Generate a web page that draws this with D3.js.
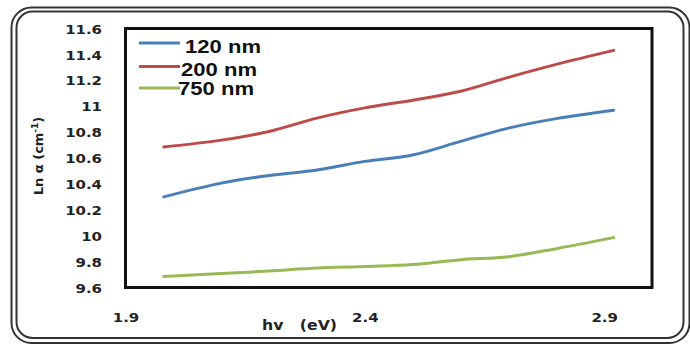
<!DOCTYPE html>
<html><head><meta charset="utf-8">
<script src="https://cdn.jsdelivr.net/npm/d3@7"></script>
<style>html,body{margin:0;padding:0;background:#fff;}svg{display:block;}</style>
</head><body>
<script>
const xValues = [1.98, 2.1, 2.2, 2.3, 2.4, 2.5, 2.6, 2.7, 2.8, 2.92];
const series120 = [10.30, 10.406, 10.465, 10.508, 10.574, 10.623, 10.728, 10.831, 10.904, 10.969];
const series200 = [10.685, 10.738, 10.805, 10.908, 10.987, 11.046, 11.115, 11.223, 11.323, 11.431];
const series750 = [9.685, 9.708, 9.727, 9.75, 9.762, 9.777, 9.815, 9.838, 9.90, 9.985];
const seriesNames = ["120 nm", "200 nm", "750 nm"];
const seriesColors = ["#4a7ebb", "#be4b48", "#98b954"];
const yTicks = [9.6, 9.8, 10, 10.2, 10.4, 10.6, 10.8, 11, 11.2, 11.4, 11.6];
const xTicks = [1.9, 2.4, 2.9];

const W = 690, H = 347;
const svg = d3.select("body").append("svg").attr("width", W).attr("height", H);

function stretch(sel, f) {
  sel.each(function() {
    const len = this.getComputedTextLength();
    d3.select(this).attr("textLength", len * f).attr("lengthAdjust", "spacingAndGlyphs");
  });
}

// outer double rounded frame
svg.append("rect").attr("x", 11.5).attr("y", 7.5).attr("width", 678).attr("height", 335.5)
  .attr("rx", 20).attr("fill", "none").attr("stroke", "#333").attr("stroke-width", 2);
svg.append("rect").attr("x", 16.5).attr("y", 11.5).attr("width", 667).attr("height", 326.5)
  .attr("rx", 16).attr("fill", "none").attr("stroke", "#333").attr("stroke-width", 2);

const x = d3.scaleLinear().domain([1.9, 3.0]).range([125.5, 652]);
const y = d3.scaleLinear().domain([9.6, 11.6]).range([287.5, 28.5]);

// y tick labels
const yAxis = d3.axisLeft(y).tickValues(yTicks).tickFormat(d3.format("")).tickSize(0).tickPadding(23.5);
const gy = svg.append("g").attr("transform", "translate(125.5,0)").call(yAxis);
gy.select(".domain").remove();
gy.selectAll("text").attr("font-family", "DejaVu Sans").attr("font-weight", "bold")
  .attr("font-size", 13).attr("fill", "#222").attr("dy", "0.36em").call(stretch, 1.15);

// x tick labels
const xAxis = d3.axisBottom(x).tickValues(xTicks).tickFormat(d3.format(".1f")).tickSize(0).tickPadding(0);
const gx = svg.append("g").attr("transform", "translate(0,310)").call(xAxis);
gx.select(".domain").remove();
gx.selectAll("text").attr("font-family", "DejaVu Sans").attr("font-weight", "bold")
  .attr("font-size", 13).attr("fill", "#222").attr("dy", "0.9em").call(stretch, 1.15);

// plot box
svg.append("rect").attr("x", x(1.9)).attr("y", y(11.6)).attr("width", x(3.0) - x(1.9))
  .attr("height", y(9.6) - y(11.6)).attr("fill", "none").attr("stroke", "#111").attr("stroke-width", 3);

// lines
const allSeries = [series120, series200, series750];
const line = d3.line().x((d, i) => x(xValues[i])).y(d => y(d)).curve(d3.curveCatmullRom);
allSeries.forEach((s, k) => {
  svg.append("path").datum(s).attr("d", line).attr("fill", "none")
    .attr("stroke", seriesColors[k]).attr("stroke-width", 3).attr("stroke-linecap", "round");
});

// legend
const legY = [43, 66.5, 88];
const legTextX = [185, 181, 178];
const legTextY = [53, 76, 95];
seriesNames.forEach((n, k) => {
  svg.append("line").attr("x1", 139).attr("x2", 180).attr("y1", legY[k]).attr("y2", legY[k])
    .attr("stroke", seriesColors[k]).attr("stroke-width", 3);
  svg.append("text").attr("x", legTextX[k]).attr("y", legTextY[k]).text(n)
    .attr("font-family", "Liberation Sans, Arial").attr("font-weight", "bold")
    .attr("font-size", 19).attr("fill", "#111").attr("textLength", 76).attr("lengthAdjust", "spacingAndGlyphs");
});

// axis titles
svg.append("text").attr("x", 262).attr("y", 330).text("hv\u00a0\u00a0\u00a0(eV)")
  .attr("font-family", "DejaVu Sans").attr("font-weight", "bold").attr("font-size", 13.5)
  .attr("fill", "#222").attr("textLength", 75).attr("lengthAdjust", "spacingAndGlyphs");
const yt = svg.append("text").attr("transform", "translate(43,156) rotate(-90)")
  .attr("text-anchor", "middle").attr("font-family", "DejaVu Sans").attr("font-weight", "bold")
  .attr("font-size", 13).attr("fill", "#222");
yt.append("tspan").text("Ln α (cm");
yt.append("tspan").text("-1").attr("font-size", 9).attr("dy", -5);
yt.append("tspan").text(")").attr("dy", 5);
</script>
</body></html>
